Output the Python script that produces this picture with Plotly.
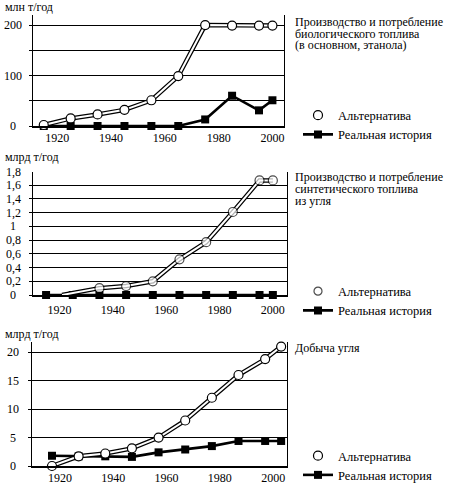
from plotly import graph_objs as go

W, H = 462, 490
SERIF = "Liberation Serif, Times New Roman, DejaVu Serif, serif"

# биотопливо, млн т/год
bio_years = [1915, 1925, 1935, 1945, 1955, 1965, 1975, 1985, 1995, 2000]
bio_alt = [2, 15, 23, 32, 51, 99, 200, 199, 199, 199]
bio_real = [0, 0, 0, 0, 0, 0, 13, 60, 31, 51]

# синтетическое топливо из угля, млрд т/год
syn_alt_years = [1921, 1935, 1945, 1955, 1965, 1975, 1985, 1995, 2000]
syn_alt = [0, 0.1, 0.13, 0.2, 0.52, 0.77, 1.21, 1.67, 1.67]
syn_real_years = [1915, 1925, 1935, 1945, 1955, 1965, 1975, 1985, 1995, 2000]
syn_real = [0, 0, 0, 0, 0, 0, 0, 0, 0, 0]

# добыча угля, млрд т/год
coal_years = [1917, 1927, 1937, 1947, 1957, 1967, 1977, 1987, 1997, 2003]
coal_alt = [0, 1.7, 2.2, 3.1, 5, 8, 12, 16, 18.8, 21]
coal_real = [1.8, 1.7, 1.7, 1.6, 2.4, 2.9, 3.5, 4.4, 4.4, 4.4]

x_ticks = [1920, 1940, 1960, 1980, 2000]

bio_yticks = [0, 100, 200]
bio_ytext = ["0", "100", "200"]
syn_yticks = [0, 0.2, 0.4, 0.6, 0.8, 1.0, 1.2, 1.4, 1.6, 1.8]
syn_ytext = ["0", "0,2", "0,4", "0,6", "0,8", "1", "1,2", "1,4", "1,6", "1,8"]
coal_yticks = [0, 5, 10, 15, 20]
coal_ytext = ["0", "5", "10", "15", "20"]

bio_title = ["Производство и потребление", "биологического топлива", "(в основном, этанола)"]
syn_title = ["Производство и потребление", "синтетического топлива", "из угля"]
coal_title = ["Добыча угля"]


def px_x(p):
    return p / W


def px_y(p):
    return 1 - p / H


def add_series(fig, n, x_real, y_real, x_alt, y_alt, alt_sizes=None):
    """Реальная история (чёрные квадраты) и альтернатива (двойная линия с кружками)."""
    xa = "x" if n == 1 else f"x{n}"
    ya = "y" if n == 1 else f"y{n}"
    lg = "legend" if n == 1 else f"legend{n}"
    if alt_sizes is None:
        alt_sizes = 9
    fig.add_trace(go.Scatter(x=x_real, y=y_real, xaxis=xa, yaxis=ya, mode="lines+markers",
                             name="Реальная история", legend=lg, legendrank=2, cliponaxis=False,
                             line=dict(color="black", width=2.6),
                             marker=dict(symbol="square", size=8, color="black")))
    fig.add_trace(go.Scatter(x=x_alt, y=y_alt, xaxis=xa, yaxis=ya, mode="lines",
                             showlegend=False, hoverinfo="skip",
                             line=dict(color="black", width=4.5)))
    fig.add_trace(go.Scatter(x=x_alt, y=y_alt, xaxis=xa, yaxis=ya, mode="lines+markers",
                             name="Альтернатива", legend=lg, legendrank=1, cliponaxis=False,
                             line=dict(color="white", width=2),
                             marker=dict(symbol="circle", size=alt_sizes, color="white",
                                         line=dict(color="black", width=1.2))))


fig = go.Figure()
add_series(fig, 1, bio_years, bio_real, bio_years, bio_alt)
add_series(fig, 2, syn_real_years, syn_real, syn_alt_years, syn_alt,
           alt_sizes=[0] + [9] * (len(syn_alt) - 1))
add_series(fig, 3, coal_years, coal_real, coal_years, coal_alt)

panels = [
    # x0, x1, y_top, y_bottom (пиксели), диапазон x, диапазон y, сетка
    dict(x0=33, x1=284, top=15, bottom=126, xr=[1911, 2004.3], yr=[0, 220],
         grid=[0, 50, 100, 150, 200], standoff=None),
    dict(x0=33, x1=287, top=171.5, bottom=295, xr=[1910.1, 2005.3], yr=[0, 1.8],
         grid=[0, 0.2, 0.4, 0.6, 0.8, 1.0, 1.2, 1.4, 1.6], standoff=3),
    dict(x0=32, x1=287, top=342, bottom=466, xr=[1909.5, 2005.2], yr=[0, 21.8],
         grid=[0, 5, 10, 15, 20], standoff=None),
]

layout = dict(width=W, height=H, autosize=False, margin=dict(l=0, r=0, t=0, b=0),
              paper_bgcolor="white", plot_bgcolor="white",
              font=dict(family=SERIF, size=12, color="black"))
for i, p in enumerate(panels, start=1):
    sfx = "" if i == 1 else str(i)
    xaxis = dict(domain=[px_x(p["x0"]), px_x(p["x1"])], range=p["xr"], anchor="y" + sfx,
                 showline=True, linecolor="black", linewidth=1.5, showgrid=False,
                 zeroline=False, ticks="", tickvals=x_ticks, automargin=False,
                 tickfont=dict(family=SERIF, size=12, color="black"))
    if p["standoff"]:
        xaxis["ticklabelstandoff"] = p["standoff"]
    yaxis = dict(domain=[px_y(p["bottom"]), px_y(p["top"])], range=p["yr"], anchor="x" + sfx,
                 showline=True, mirror=True, linecolor="black", linewidth=1,
                 ticks="outside", ticklen=3, tickcolor="black", tickvals=p["grid"],
                 showticklabels=False, showgrid=True, gridcolor="black", gridwidth=1,
                 zeroline=False, automargin=False)
    layout["xaxis" + sfx] = xaxis
    layout["yaxis" + sfx] = yaxis

legend_tops = [100.5, 276.5, 441]
for i, top in enumerate(legend_tops, start=1):
    key = "legend" if i == 1 else f"legend{i}"
    layout[key] = dict(x=px_x(298), y=px_y(top), xanchor="left", yanchor="top",
                       bgcolor="rgba(0,0,0,0)", itemwidth=30,
                       font=dict(family=SERIF, size=12.5, color="black"))
fig.update_layout(**layout)

# подписи по оси Y (по центру, как в оригинале)
for n, vals, texts in [(1, bio_yticks, bio_ytext), (2, syn_yticks, syn_ytext),
                       (3, coal_yticks, coal_ytext)]:
    ya = "y" if n == 1 else f"y{n}"
    for v, t in zip(vals, texts):
        fig.add_annotation(x=px_x(13), xref="paper", y=v, yref=ya, text=t, showarrow=False,
                           xanchor="center", yanchor="middle",
                           font=dict(family=SERIF, size=12, color="black"))

# единицы измерения
for text, py in [("млн т/год", 7), ("млрд т/год", 157.5), ("млрд т/год", 334)]:
    fig.add_annotation(x=px_x(3), xref="paper", y=px_y(py), yref="paper", text=text,
                       showarrow=False, xanchor="left", yanchor="middle",
                       font=dict(family=SERIF, size=12, color="black"))

# заголовки справа
for lines, first_y, step in [(bio_title, 22, 11.7), (syn_title, 176.7, 12.3), (coal_title, 348.3, 12)]:
    for k, line in enumerate(lines):
        fig.add_annotation(x=px_x(294), xref="paper", y=px_y(first_y + k * step), yref="paper",
                           text=line, showarrow=False, xanchor="left", yanchor="middle",
                           borderpad=0,
                           font=dict(family=SERIF, size=12, color="black"))

# убираем стандартный отступ body, чтобы график занимал окно целиком
fig.write_html("out.html", config=dict(displayModeBar=False),
               post_script="document.body.style.margin='0';document.body.style.overflow='hidden';")
